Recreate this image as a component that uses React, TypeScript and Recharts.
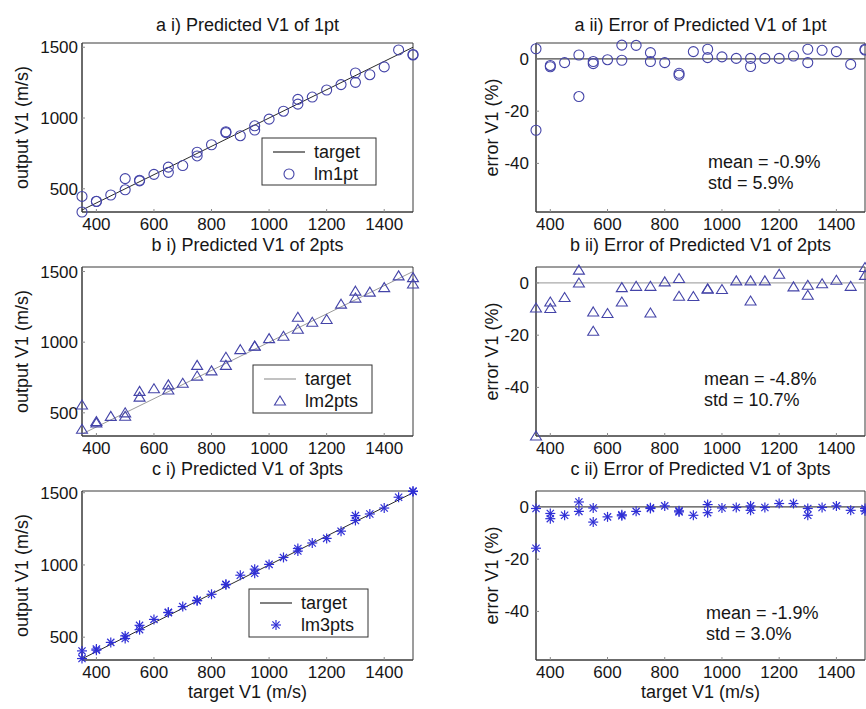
import { ReferenceArea, ReferenceLine, Scatter, ScatterChart, XAxis, YAxis } from "recharts";

// target V1 (m/s) for every run, same for all three models
const targets = [
    350, 350, 400, 400, 450, 500, 500, 550, 550, 600, 650, 650, 700, 750, 750, 800, 850, 850,
    900, 950, 950, 1000, 1050, 1100, 1100, 1150, 1200, 1250, 1300, 1300, 1350, 1400, 1450, 1500, 1500,
];

const output1pt = [
    336, 446, 410, 412, 456, 493, 572, 556, 560, 602, 616, 653, 664, 732, 758, 811, 897, 903,
    875, 915, 945, 992, 1048, 1098, 1132, 1148, 1198, 1236, 1252, 1318, 1306, 1361, 1481, 1445, 1449,
];
const output2pts = [
    384, 555, 429, 439, 475, 476, 500, 611, 652, 670, 662, 698, 709, 760, 836, 797, 836, 893,
    947, 971, 973, 1025, 1042, 1091, 1176, 1141, 1160, 1269, 1312, 1361, 1354, 1386, 1469, 1412, 1457,
];
const output3pts = [
    352, 405, 410, 418, 464, 491, 509, 552, 582, 623, 670, 672, 712, 752, 755, 797, 863, 866,
    929, 942, 971, 1004, 1052, 1096, 1114, 1152, 1184, 1234, 1308, 1342, 1353, 1394, 1469, 1509, 1511,
];

const error1pt = [
    3.9, -27.3, -2.5, -3.0, -1.4, 1.5, -14.4, -1.0, -1.8, -0.3, 5.3, -0.5, 5.2, 2.4, -1.0, -1.4, -5.5, -6.2,
    2.8, 3.7, 0.5, 0.8, 0.2, 0.2, -2.9, 0.2, 0.2, 1.1, 3.7, -1.4, 3.3, 2.8, -2.1, 3.7, 3.4,
];
const error2pts = [
    -9.6, -58.6, -7.3, -9.8, -5.6, 4.9, 0, -11.1, -18.5, -11.7, -1.8, -7.3, -1.3, -1.3, -11.5, 0.4, 1.7, -5.1,
    -5.2, -2.2, -2.4, -2.5, 0.8, 0.8, -6.9, 0.8, 3.3, -1.5, -0.9, -4.7, -0.3, 1.0, -1.3, 5.9, 2.9,
];
const error3pts = [
    -0.6, -15.8, -2.5, -4.5, -3.2, 1.9, -1.7, -0.4, -5.8, -3.8, -3.0, -3.4, -1.7, -0.3, -0.6, 0.4, -1.5, -1.9,
    -3.2, 0.9, -2.2, -0.4, -0.2, 0.4, -1.3, -0.2, 1.3, 1.3, -0.6, -3.2, -0.2, 0.4, -1.3, -1.5, -0.6,
];

const targetLine = [350, 1500];
const xTicks = [400, 600, 800, 1000, 1200, 1400];
const outputTicks = [500, 1000, 1500];
const errorTicks = [-40, -20, 0];

const leftTitles = ["a i) Predicted V1 of 1pt", "b i) Predicted V1 of 2pts", "c i) Predicted V1 of 3pts"];
const rightTitles = [
    "a ii) Error of Predicted V1 of 1pt",
    "b ii) Error of Predicted V1 of 2pts",
    "c ii) Error of Predicted V1 of 3pts",
];
const seriesNames = ["lm1pt", "lm2pts", "lm3pts"];
const meanLabels = ["mean = -0.9%", "mean = -4.8%", "mean = -1.9%"];
const stdLabels = ["std = 5.9%", "std = 10.7%", "std = 3.0%"];

const FONT = "'Liberation Sans', Arial, sans-serif";
const AXIS = "#3a3a3a";
const TICK = "#8a8a8a";
const BLUE = "#4444a8";
const STAR = "#2f2fd6";

const plotTops = [43, 267, 491];
const plotH = 169;
const leftPlotX = 82;
const leftPlotW = 331;
const rightPlotX = 536;
const rightPlotW = 329;
const xRange: [number, number] = [350, 1500];

const tickStyle = { fontSize: 17, fill: "#161616", fontFamily: FONT };

type Pt = { cx?: number; cy?: number };

function CircleMark({ cx = 0, cy = 0 }: Pt) {
    return <circle cx={cx} cy={cy} r={5} fill="none" stroke={BLUE} strokeWidth={1.1} />;
}

function TriMark({ cx = 0, cy = 0 }: Pt) {
    return (
        <path
            d={`M${cx},${cy - 5}L${cx + 5.5},${cy + 4}L${cx - 5.5},${cy + 4}Z`}
            fill="none"
            stroke={BLUE}
            strokeWidth={1.1}
        />
    );
}

function StarMark({ cx = 0, cy = 0 }: Pt) {
    const r = 5;
    const d = 3.6;
    return (
        <g stroke={STAR} strokeWidth={1.2}>
            <line x1={cx - r} y1={cy} x2={cx + r} y2={cy} />
            <line x1={cx} y1={cy - r} x2={cx} y2={cy + r} />
            <line x1={cx - d} y1={cy - d} x2={cx + d} y2={cy + d} />
            <line x1={cx - d} y1={cy + d} x2={cx + d} y2={cy - d} />
        </g>
    );
}

const markers = [CircleMark, TriMark, StarMark];
const targetColors = ["#2a2a2a", "#9a9a9a", "#2a2a2a"];
const zeroColors = ["#4a4a4a", "#aaaaaa", "#4a4a4a"];
const outputs = [output1pt, output2pts, output3pts];
const errors = [error1pt, error2pts, error3pts];
const outputDomains: [number, number][] = [
    [336, 1530],
    [336, 1532],
    [342, 1512],
];
const errorDomain: [number, number] = [-58.6, 6.1];

function Panel({ row, kind }: { row: number; kind: "out" | "err" }) {
    const isOut = kind === "out";
    const yWidth = isOut ? leftPlotX : 50;
    const plotW = isOut ? leftPlotW : rightPlotW;
    const marginRight = isOut ? 20 : 1;
    const left = (isOut ? leftPlotX : rightPlotX) - yWidth;
    const top = plotTops[row] - 10;
    const yVals = isOut ? outputs[row] : errors[row];
    const pts = targets.map((t, i) => ({ x: t, y: yVals[i] }));
    const linePts = targetLine.map((v) => ({ x: v, y: v }));
    const yDomain = isOut ? outputDomains[row] : errorDomain;
    const yTicks = isOut ? outputTicks : errorTicks;
    const Marker = markers[row];
    return (
        <div style={{ position: "absolute", left, top }}>
            <ScatterChart
                width={yWidth + plotW + marginRight}
                height={10 + plotH + 30}
                margin={{ top: 10, right: marginRight, bottom: 0, left: 0 }}
            >
                <XAxis
                    xAxisId="b"
                    type="number"
                    dataKey="x"
                    domain={xRange}
                    ticks={xTicks}
                    interval={0}
                    height={30}
                    tickSize={-3}
                    tickMargin={9}
                    axisLine={{ stroke: AXIS }}
                    tickLine={{ stroke: TICK }}
                    tick={tickStyle}
                />
                <XAxis
                    xAxisId="t"
                    orientation="top"
                    mirror
                    type="number"
                    dataKey="x"
                    domain={xRange}
                    ticks={xTicks}
                    interval={0}
                    height={1}
                    tickSize={3}
                    tick={false}
                    axisLine={false}
                    tickLine={{ stroke: TICK }}
                />
                <YAxis
                    yAxisId="l"
                    type="number"
                    dataKey="y"
                    domain={yDomain}
                    ticks={yTicks}
                    interval={0}
                    width={yWidth}
                    tickSize={-3}
                    tickMargin={isOut ? 7 : 10}
                    axisLine={{ stroke: AXIS }}
                    tickLine={{ stroke: TICK }}
                    tick={tickStyle}
                />
                <YAxis
                    yAxisId="r"
                    orientation="right"
                    mirror
                    type="number"
                    dataKey="y"
                    domain={yDomain}
                    ticks={yTicks}
                    interval={0}
                    width={1}
                    tickSize={3}
                    tick={false}
                    axisLine={false}
                    tickLine={{ stroke: TICK }}
                />
                <ReferenceArea
                    xAxisId="b"
                    yAxisId="l"
                    x1={xRange[0]}
                    x2={xRange[1]}
                    y1={yDomain[0]}
                    y2={yDomain[1]}
                    fill="none"
                    fillOpacity={0}
                    stroke={AXIS}
                    strokeWidth={1}
                />
                <Scatter
                    xAxisId="t"
                    yAxisId="r"
                    data={pts}
                    shape={() => <g />}
                    isAnimationActive={false}
                />
                {isOut ? (
                    <Scatter
                        xAxisId="b"
                        yAxisId="l"
                        data={linePts}
                        line={{ stroke: targetColors[row], strokeWidth: 1 }}
                        shape={() => <g />}
                        isAnimationActive={false}
                    />
                ) : (
                    <ReferenceLine xAxisId="b" yAxisId="l" y={0} stroke={zeroColors[row]} strokeWidth={1.2} />
                )}
                <Scatter
                    xAxisId="b"
                    yAxisId="l"
                    data={pts}
                    shape={(p: Pt) => <Marker cx={p.cx} cy={p.cy} />}
                    isAnimationActive={false}
                />
            </ScatterChart>
        </div>
    );
}

const legendBoxes = [
    { x: 262, y: 138, w: 114, h: 47 },
    { x: 253, y: 365, w: 119, h: 48 },
    { x: 249, y: 589, w: 119, h: 48 },
];
const statX = [708, 704, 706];
const statBase = [168, 385, 619];
const titleBase = [31, 251, 475];

function Overlay() {
    const lcx = leftPlotX + leftPlotW / 2;
    const rcx = rightPlotX + rightPlotW / 2;
    return (
        <svg
            width={866}
            height={709}
            style={{ position: "absolute", left: 0, top: 0, pointerEvents: "none" }}
            fontFamily={FONT}
            fill="#161616"
        >
            {[0, 1, 2].map((row) => {
                const mid = plotTops[row] + plotH / 2;
                const lb = legendBoxes[row];
                const Marker = markers[row];
                return (
                    <g key={row}>
                        <text x={lcx} y={titleBase[row]} fontSize={18} textAnchor="middle">
                            {leftTitles[row]}
                        </text>
                        <text x={rcx} y={titleBase[row]} fontSize={18} textAnchor="middle">
                            {rightTitles[row]}
                        </text>
                        <text x={28} y={mid} fontSize={18} textAnchor="middle" transform={`rotate(-90 28 ${mid})`}>
                            output V1 (m/s)
                        </text>
                        <text x={498} y={mid} fontSize={18} textAnchor="middle" transform={`rotate(-90 498 ${mid})`}>
                            error V1 (%)
                        </text>
                        <text x={statX[row]} y={statBase[row]} fontSize={18}>
                            {meanLabels[row]}
                        </text>
                        <text x={statX[row]} y={statBase[row] + 20.5} fontSize={18}>
                            {stdLabels[row]}
                        </text>
                        <rect x={lb.x} y={lb.y} width={lb.w} height={lb.h} fill="#fff" stroke="#333" strokeWidth={1} />
                        <line
                            x1={lb.x + 11}
                            y1={lb.y + 14}
                            x2={lb.x + 43}
                            y2={lb.y + 14}
                            stroke={targetColors[row]}
                            strokeWidth={1.2}
                        />
                        <text x={lb.x + 52} y={lb.y + 20} fontSize={18}>
                            target
                        </text>
                        <Marker cx={lb.x + 27} cy={lb.y + 36} />
                        <text x={lb.x + 52} y={lb.y + 42} fontSize={18}>
                            {seriesNames[row]}
                        </text>
                    </g>
                );
            })}
            <text x={lcx} y={698} fontSize={18} textAnchor="middle">
                target V1 (m/s)
            </text>
            <text x={rcx} y={698} fontSize={18} textAnchor="middle">
                target V1 (m/s)
            </text>
        </svg>
    );
}

export default function App() {
    return (
        <div
            style={{
                position: "absolute",
                left: 0,
                top: 0,
                width: 866,
                height: 709,
                overflow: "hidden",
                background: "#fff",
                fontFamily: FONT,
            }}
        >
            {[0, 1, 2].map((row) => (
                <Panel key={`o${row}`} row={row} kind="out" />
            ))}
            {[0, 1, 2].map((row) => (
                <Panel key={`e${row}`} row={row} kind="err" />
            ))}
            <Overlay />
        </div>
    );
}
